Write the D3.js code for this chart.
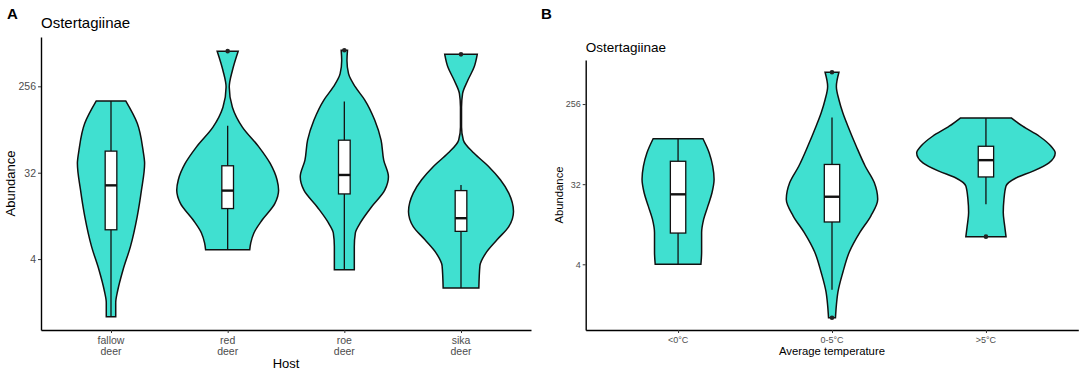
<!DOCTYPE html>
<html>
<head>
<meta charset="utf-8">
<script src="https://cdn.jsdelivr.net/npm/d3@7"></script>
<style>
  body { margin: 0; background: #fff; }
  svg { font-family: "Liberation Sans", Arial, sans-serif; }
</style>
</head>
<body>
<svg id="chart" width="1084" height="373"></svg>
<script>
// ---- panel A: abundance by host ----
var hostCategories = ["fallow deer", "red deer", "roe deer", "sika deer"];
// violin outline, read top to bottom: abundance and relative density
var hostViolinAbundance = [
  [180, 105, 55, 40, 21, 11.2, 5.4, 3.1, 1.9, 1.4, 1],
  [597, 375, 252, 155, 96, 60, 40, 27, 21, 15.3, 10.3, 7.5, 5.9, 5.0],
  [609, 478, 347, 252, 184, 113, 70, 43.4, 29, 21, 14.1, 9.5, 7.5, 5.4, 3.1],
  [553, 407, 296, 215, 155, 96, 70, 51, 37, 27, 19.6, 12.6, 8.75, 6.4, 4.6, 3.4, 2]
];
var hostViolinDensity = [
  [0.28, 0.50, 0.61, 0.64, 0.58, 0.50, 0.37, 0.23, 0.13, 0.09, 0.09],
  [0.20, 0.09, 0.03, 0.09, 0.28, 0.59, 0.81, 0.94, 0.97, 0.90, 0.66, 0.50, 0.44, 0.42],
  [0.06, 0.05, 0.08, 0.21, 0.39, 0.58, 0.70, 0.75, 0.84, 0.77, 0.52, 0.30, 0.21, 0.19, 0.19],
  [0.31, 0.25, 0.13, 0.03, 0.01, 0.01, 0.045, 0.25, 0.53, 0.75, 0.91, 1.0, 0.91, 0.69, 0.47, 0.36, 0.34]
];
// [lower whisker, Q1, median, Q3, upper whisker]
var hostBoxStats = [
  [1, 8.1, 23.6, 53.8, 180],
  [5.0, 13.5, 20.8, 37.8, 99],
  [3.1, 19.2, 30.3, 70, 178],
  [2, 7.8, 10.7, 20.8, 23.8]
];
var hostOutliers = [[], [597], [609], [553]];

// ---- panel B: abundance by average temperature ----
var tempCategories = ["<0°C", "0-5°C", ">5°C"];
var tempViolinAbundance = [
  [104, 72, 51, 36.3, 25.6, 18.1, 12.9, 9.1, 5.5, 4.0],
  [584, 404, 286, 203, 144, 85.6, 51, 33.4, 21.6, 14.0, 9.1, 5.5, 3.25, 1.95, 1.38, 1.0],
  [178, 144, 111, 85.6, 72, 55.7, 44.9, 37.8, 30.5, 21.6, 15.3, 10.9, 8.2]
];
var tempViolinDensity = [
  [0.36, 0.45, 0.50, 0.52, 0.49, 0.43, 0.37, 0.34, 0.34, 0.33],
  [0.10, 0.063, 0.10, 0.157, 0.23, 0.35, 0.48, 0.61, 0.66, 0.56, 0.40, 0.25, 0.157, 0.086, 0.063, 0.05],
  [0.37, 0.53, 0.77, 0.94, 1.0, 0.91, 0.68, 0.44, 0.29, 0.26, 0.25, 0.27, 0.29]
];
var tempBoxStats = [
  [4.0, 9.0, 24.6, 58, 104],
  [2.07, 12.0, 23.1, 53.4, 181],
  [19.0, 38.6, 59.7, 85.6, 178]
];
var tempOutliers = [[], [584, 1.0], [8.2]];

var abundanceTicks = [4, 32, 256];

var svg = d3.select("#chart");

function drawPanel(p) {
  var g = svg.append("g");

  // log2 y scale, 5% expansion like ggplot
  var all = d3.merge(p.abundance.concat(p.outliers));
  var lo = Math.log2(d3.min(all)), hi = Math.log2(d3.max(all));
  var pad = (hi - lo) * 0.05;
  var y = d3.scaleLog().base(2)
    .domain([Math.pow(2, lo - pad), Math.pow(2, hi + pad)])
    .range([p.bottom, p.top]);

  var x = d3.scalePoint()
    .domain(p.categories)
    .range([p.left, p.right])
    .padding(0.6);

  var maxHalf = 0.45 * x.step();
  var boxHalf = 0.05 * x.step();

  p.categories.forEach(function(cat, i) {
    var cx = x(cat);
    var pts = p.abundance[i].map(function(v, j) { return [v, p.density[i][j]]; });

    var area = d3.area()
      .curve(d3.curveMonotoneY)
      .y(function(d) { return y(d[0]); })
      .x0(function(d) { return cx - d[1] * maxHalf; })
      .x1(function(d) { return cx + d[1] * maxHalf; });

    g.append("path")
      .attr("d", area(pts))
      .attr("fill", "#40E0D0")
      .attr("stroke", "#111")
      .attr("stroke-width", 1.5);

    var s = p.box[i];
    // whiskers
    g.append("line")
      .attr("x1", cx).attr("x2", cx)
      .attr("y1", y(s[4])).attr("y2", y(s[3]))
      .attr("stroke", "#111").attr("stroke-width", 1.3);
    g.append("line")
      .attr("x1", cx).attr("x2", cx)
      .attr("y1", y(s[1])).attr("y2", y(s[0]))
      .attr("stroke", "#111").attr("stroke-width", 1.3);
    // box
    g.append("rect")
      .attr("x", cx - boxHalf)
      .attr("y", y(s[3]))
      .attr("width", boxHalf * 2)
      .attr("height", y(s[1]) - y(s[3]))
      .attr("fill", "#fff")
      .attr("stroke", "#111")
      .attr("stroke-width", 1.3);
    // median
    g.append("line")
      .attr("x1", cx - boxHalf).attr("x2", cx + boxHalf)
      .attr("y1", y(s[2])).attr("y2", y(s[2]))
      .attr("stroke", "#111").attr("stroke-width", 2.4);

    g.selectAll(null)
      .data(p.outliers[i])
      .join("circle")
      .attr("cx", cx)
      .attr("cy", function(d) { return y(d); })
      .attr("r", 2.3)
      .attr("fill", "#222");
  });

  // y axis
  var yAxis = g.append("g")
    .attr("transform", "translate(" + p.left + ",0)")
    .call(d3.axisLeft(y)
      .tickValues(abundanceTicks)
      .tickFormat(d3.format("d"))
      .tickSize(3)
      .tickSizeOuter(0)
      .tickPadding(2));
  yAxis.select(".domain").attr("stroke", "#000").attr("stroke-width", 1.4);
  yAxis.selectAll(".tick line").attr("stroke", "#333");
  yAxis.selectAll(".tick text")
    .attr("fill", "#4D4D4D")
    .style("font-size", p.tickFont + "px")
    .style("font-family", "Liberation Sans, Arial, sans-serif");

  // x axis
  var xAxis = g.append("g")
    .attr("transform", "translate(0," + p.bottom + ")")
    .call(d3.axisBottom(x).tickSize(3).tickSizeOuter(0).tickFormat(""));
  xAxis.select(".domain").attr("stroke", "#000").attr("stroke-width", 1.4);
  xAxis.selectAll(".tick line").attr("stroke", "#333");

  p.categories.forEach(function(cat) {
    var lines = p.splitLabels ? cat.split(" ") : [cat];
    var t = g.append("text")
      .attr("text-anchor", "middle")
      .attr("fill", "#4D4D4D")
      .style("font-size", p.tickFont + "px");
    lines.forEach(function(l, k) {
      t.append("tspan")
        .attr("x", x(cat))
        .attr("y", p.bottom + p.xLabelOffset + k * p.tickFont * 1.05)
        .text(l);
    });
  });

  // titles
  g.append("text")
    .attr("x", p.labelX).attr("y", 19)
    .style("font-size", "15px")
    .style("font-weight", "bold")
    .text(p.label);

  g.append("text")
    .attr("x", p.left).attr("y", p.titleY)
    .style("font-size", p.titleFont + "px")
    .text("Ostertagiinae");

  g.append("text")
    .attr("transform", "translate(" + p.yTitleX + "," + ((p.top + p.bottom) / 2) + ") rotate(-90)")
    .attr("text-anchor", "middle")
    .style("font-size", p.axisTitleFont + "px")
    .text("Abundance");

  g.append("text")
    .attr("x", (p.left + p.right) / 2)
    .attr("y", p.xTitleY)
    .attr("text-anchor", "middle")
    .style("font-size", p.axisTitleFont + "px")
    .text(p.xTitle);
}

drawPanel({
  label: "A", labelX: 7,
  categories: hostCategories,
  abundance: hostViolinAbundance,
  density: hostViolinDensity,
  box: hostBoxStats,
  outliers: hostOutliers,
  left: 41, right: 531, top: 37, bottom: 330,
  tickFont: 10.5, titleFont: 15, axisTitleFont: 13,
  titleY: 28, yTitleX: 15, xTitleY: 367.5, xLabelOffset: 13.5,
  splitLabels: true,
  xTitle: "Host"
});

drawPanel({
  label: "B", labelX: 541,
  categories: tempCategories,
  abundance: tempViolinAbundance,
  density: tempViolinDensity,
  box: tempBoxStats,
  outliers: tempOutliers,
  left: 585.7, right: 1078.3, top: 60, bottom: 330,
  tickFont: 9, titleFont: 13.5, axisTitleFont: 11.3,
  titleY: 51.7, yTitleX: 563, xTitleY: 355.3, xLabelOffset: 13,
  splitLabels: false,
  xTitle: "Average temperature"
});
</script>
</body>
</html>
